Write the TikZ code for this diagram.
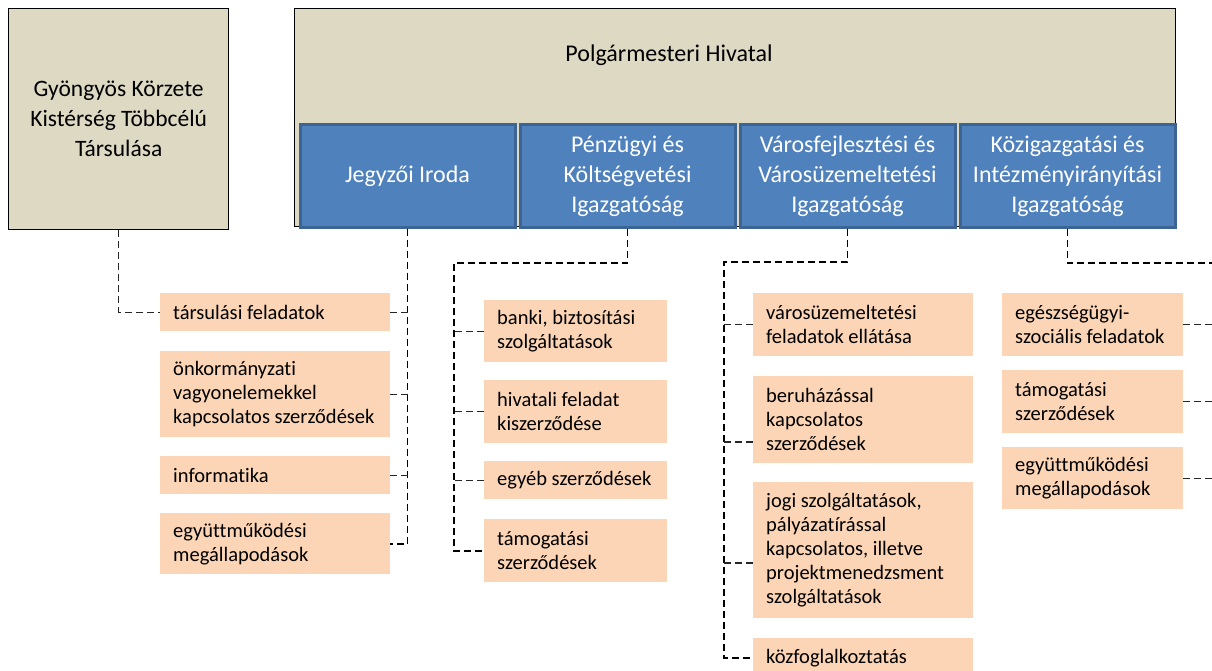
\documentclass[tikz,border=0pt]{standalone}
\usepackage{fontspec}
\setmainfont{Carlito}[Ligatures={NoCommon}]
\usetikzlibrary{shadows,calc}
\definecolor{tanfill}{HTML}{DDD9C3}
\definecolor{bluefill}{HTML}{4F81BD}
\definecolor{blueedge}{HTML}{3C6494}
\definecolor{taskfill}{HTML}{FBD5B5}

\tikzset{
  x=1pt, y=-1pt,
  orgbox/.style={draw=black, line width=1.3pt, fill=tanfill, anchor=north west,
    inner sep=0pt, align=flush center, font=\fontsize{23.5}{30}\selectfont},
  dept/.style={draw=blueedge, line width=3pt, fill=bluefill, anchor=north west,
    inner sep=0pt, align=flush center, text=white, font=\fontsize{24}{30}\selectfont,
    drop shadow={shadow xshift=1.5pt, shadow yshift=-2pt, opacity=0.25}},
  task/.style={fill=taskfill, anchor=north west, inner xsep=13pt, inner ysep=0pt,
    align=flush left, font=\fontsize{20.5}{24}\selectfont},
  trunk/.style={draw=black, line width=1.7pt, dash pattern=on 7pt off 4pt},
  stub/.style={draw=black!85, line width=1.1pt, dash pattern=on 7pt off 4pt},
}

\begin{document}
\begin{tikzpicture}
\useasboundingbox (0,0) rectangle (1212,671);
\clip (0,0) rectangle (1212,671);
\fill[white] (0,0) rectangle (1212,671);

% top-level bodies
\node[orgbox, minimum width=220, minimum height=221] (gy) at (8,8)
  {Gyöngyös Körzete\\Kistérség Többcélú\\Társulása};
\node[orgbox, minimum width=881, minimum height=218] (hiv) at (294,8) {};
\node[font=\fontsize{24}{30}\selectfont] (hivtext) at (669,55) {Polgármesteri Hivatal};

% directorates
\node[dept, minimum width=215, minimum height=102] (jeg) at (298.5,123.5) {Jegyzői Iroda};
\node[dept, minimum width=215, minimum height=102] (pen) at (518.5,123.5)
  {Pénzügyi és\\Költségvetési\\Igazgatóság};
\node[dept, minimum width=215, minimum height=102] (var) at (738.5,123.5)
  {Városfejlesztési és\\Városüzemeltetési\\Igazgatóság};
\node[dept, minimum width=215, minimum height=102] (koz) at (958.5,123.5)
  {Közigazgatási és\\Intézményirányítási\\Igazgatóság};

% tasks: Jegyzői Iroda
\node[task, text width=204pt, minimum height=38pt] (t1) at (160,293) {társulási feladatok};
\node[task, text width=204pt, minimum height=86pt] (t2) at (160,351)
  {önkormányzati\\vagyonelemekkel\\kapcsolatos szerződések};
\node[task, text width=204pt, minimum height=38pt] (t3) at (160,456) {informatika};
\node[task, text width=204pt, minimum height=61pt] (t4) at (160,513)
  {együttműködési\\megállapodások};

% tasks: Pénzügyi és Költségvetési Igazgatóság
\node[task, text width=157pt, minimum height=62pt] (p1) at (484,300)
  {banki, biztosítási\\szolgáltatások};
\node[task, text width=157pt, minimum height=63pt] (p2) at (484,380)
  {hivatali feladat\\kiszerződése};
\node[task, text width=157pt, minimum height=38pt] (p3) at (484,461) {egyéb szerződések};
\node[task, text width=157pt, minimum height=63pt] (p4) at (484,519)
  {támogatási\\szerződések};

% tasks: Városfejlesztési és Városüzemeltetési Igazgatóság
\node[task, text width=194pt, minimum height=63pt] (v1) at (753,293)
  {városüzemeltetési\\feladatok ellátása};
\node[task, text width=194pt, minimum height=87pt] (v2) at (753,376)
  {beruházással\\kapcsolatos\\szerződések};
\node[task, text width=194pt, minimum height=136pt] (v3) at (753,482)
  {jogi szolgáltatások,\\pályázatírással\\kapcsolatos, illetve\\projektmenedzsment\\szolgáltatások};
\node[task, text width=194pt, minimum height=40pt] (v4) at (753,638) {közfoglalkoztatás};

% tasks: Közigazgatási és Intézményirányítási Igazgatóság
\node[task, text width=155pt, minimum height=63pt] (k1) at (1002,293)
  {egészségügyi-\\szociális feladatok};
\node[task, text width=155pt, minimum height=63pt] (k2) at (1002,370)
  {támogatási\\szerződések};
\node[task, text width=155pt, minimum height=62pt] (k3) at (1002,447)
  {együttműködési\\megállapodások};

% connectors
\draw[stub] (gy.south) -- (gy.south |- t1.west) -- (t1.west);

\draw[trunk] (jeg.south) -- (jeg.south |- t4.east) -- (t4.east);
\foreach \t in {t1,t2,t3} \draw[stub] (\t.east) -- (\t.east -| jeg.south);

\coordinate (pbend) at (454,263);
\draw[trunk] (pen.south) -- (pen.south |- pbend) -- (pbend) -- (pbend |- p4.west) -- (p4.west);
\foreach \t in {p1,p2,p3} \draw[stub] (\t.west) -- (\t.west -| pbend);

\coordinate (vbend) at (724,262);
\coordinate (v2in) at ($(v2.north west)+(0,66)$);
\coordinate (v3in) at ($(v3.north west)+(0,81)$);
\draw[trunk] (var.south) -- (var.south |- vbend) -- (vbend) -- (vbend |- v4.west) -- (v4.west);
\draw[stub] (v1.west) -- (v1.west -| vbend);
\draw[stub] (v2in) -- (v2in -| vbend);
\draw[stub] (v3in) -- (v3in -| vbend);

\coordinate (kbend) at (1232,263);
\draw[trunk] (koz.south) -- (koz.south |- kbend) -- (kbend) -- (kbend |- k3.east);
\foreach \t in {k1,k2,k3} \draw[stub] (\t.east) -- (\t.east -| kbend);
\end{tikzpicture}
\end{document}
